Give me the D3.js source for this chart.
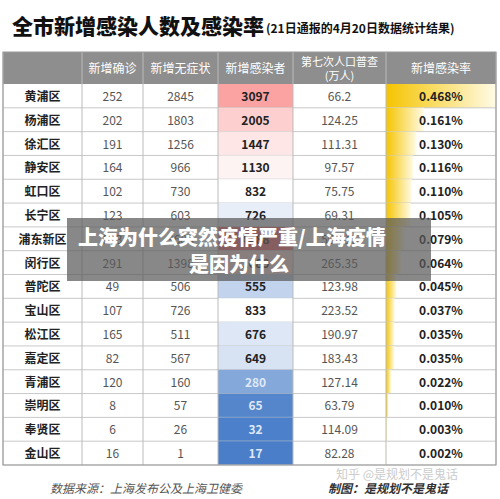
<!DOCTYPE html>
<html><head><meta charset="utf-8">
<script src="https://cdn.jsdelivr.net/npm/d3@7"></script>
<style>body{margin:0;background:#fff}svg{font-family:"Noto Sans CJK SC","Noto Sans",sans-serif}</style>
</head><body><div class="canvas"></div>
<script>
const districts = ["黄浦区","杨浦区","徐汇区","静安区","虹口区","长宁区","浦东新区","闵行区","普陀区","宝山区","松江区","嘉定区","青浦区","崇明区","奉贤区","金山区"];
const confirmed = [252,202,191,164,102,123,803,291,49,107,165,82,120,8,6,16];
const asymptomatic = [2845,1803,1256,966,730,603,3685,1398,506,726,511,567,160,57,26,1];
const infected = [3097,2005,1447,1130,832,726,4488,1689,555,833,676,649,280,65,32,17];
const population = ["66.2","124.25","111.31","97.57","75.75","69.31","568.15","265.35","123.98","223.52","190.97","183.43","127.14","63.79","114.09","82.28"];
const rate = [0.468,0.161,0.130,0.116,0.110,0.105,0.079,0.064,0.045,0.037,0.035,0.035,0.022,0.010,0.003,0.002];

const dims = { w: 500, h: 499 };
const cols = [3, 82, 143, 218, 293, 386, 496];

const svg = d3.select(".canvas").append("svg").attr("width", dims.w).attr("height", dims.h);

svg.append("text").attr("x", 12).attr("y", 34).attr("font-size", 21).attr("font-weight", 900).attr("fill", "#111")
  .text("全市新增感染人数及感染率");
svg.append("text").attr("x", 266).attr("y", 33).attr("font-size", 12).attr("font-weight", 700).attr("fill", "#111")
  .text("(21日通报的4月20日数据统计结果)");

const y = d3.scaleBand().domain(districts).range([84, 465]);
const colour = d3.scaleLinear().domain([17, 830, 4488]).range(["#4a7ec9", "#ffffff", "#f8696b"]).clamp(true);
const bar = d3.scaleLinear().domain([0, d3.max(rate)]).range([0, cols[6] - cols[5]]);

const defs = svg.append("defs");
const grad = defs.append("linearGradient").attr("id", "gold");
grad.append("stop").attr("offset", "0%").attr("stop-color", "#f5c400");
grad.append("stop").attr("offset", "100%").attr("stop-color", "#fffbe6");

// header
svg.append("rect").attr("x", 3).attr("y", 52).attr("width", 493).attr("height", 32).attr("fill", "#8e8e8e");
const heads = ["", "新增确诊", "新增无症状", "新增感染者", "第七次人口普查", "新增感染率"];
heads.forEach((h, i) => {
  const cx = (cols[i] + cols[i + 1]) / 2;
  if (i === 4) {
    svg.append("text").attr("x", cx).attr("y", 66).attr("text-anchor", "middle").attr("font-size", 11).attr("fill", "#fff").text(h);
    svg.append("text").attr("x", cx).attr("y", 80).attr("text-anchor", "middle").attr("font-size", 11).attr("fill", "#fff").text("(万人)");
  } else {
    svg.append("text").attr("x", cx).attr("y", 73).attr("text-anchor", "middle").attr("font-size", 12).attr("fill", "#fff").text(h);
  }
});

const rows = svg.append("g").selectAll("g").data(districts).join("g")
  .attr("transform", d => `translate(0,${y(d)})`);
const bh = y.bandwidth();

rows.append("rect").attr("x", cols[3]).attr("width", cols[4] - cols[3]).attr("height", bh)
  .attr("fill", (d, i) => colour(infected[i]));
rows.append("rect").attr("x", cols[5]).attr("width", (d, i) => bar(rate[i])).attr("height", bh)
  .attr("fill", "url(#gold)");

const cell = (i, fn, opts = {}) => rows.append("text")
  .attr("x", (cols[i] + cols[i + 1]) / 2).attr("y", bh / 2 + 5)
  .attr("text-anchor", "middle").attr("font-size", 12)
  .attr("font-weight", opts.bold ? 700 : 400)
  .attr("fill", opts.fill || "#555").text(fn);

cell(0, d => d, { bold: true, fill: "#222" });
cell(1, (d, i) => confirmed[i]);
cell(2, (d, i) => asymptomatic[i]);
cell(3, (d, i) => infected[i], { bold: true, fill: null })
  .attr("fill", (d, i) => infected[i] < 400 ? "#dfe8f7" : "#222");
cell(4, (d, i) => population[i]);
cell(5, (d, i) => rate[i].toFixed(3) + "%", { bold: true, fill: "#222" });

// grid
rows.append("line").attr("x1", 3).attr("x2", 496).attr("y1", bh).attr("y2", bh).attr("stroke", "#c8c8c8");
cols.forEach(c => svg.append("line").attr("x1", c).attr("x2", c).attr("y1", 52).attr("y2", 465)
  .attr("stroke", "#bbb"));
svg.append("rect").attr("x", 3).attr("y", 52).attr("width", 493).attr("height", 413)
  .attr("fill", "none").attr("stroke", "#999");

// footer
svg.append("text").attr("x", 50).attr("y", 493).attr("font-size", 12).attr("font-style", "italic").attr("fill", "#555")
  .text("数据来源：上海发布公及上海卫健委");
svg.append("text").attr("x", 328).attr("y", 493).attr("font-size", 12).attr("font-weight", 700).attr("font-style", "italic").attr("fill", "#333")
  .text("制图：是规划不是鬼话");
svg.append("text").attr("x", 336).attr("y", 479).attr("font-size", 12).attr("fill", "#ccc").text("知乎 @是规划不是鬼话");

// overlay banner
svg.append("rect").attr("x", 67).attr("y", 218).attr("width", 364).attr("height", 63).attr("fill", "rgba(90,90,90,0.72)");
svg.append("text").attr("x", 78).attr("y", 245).attr("font-size", 20).attr("font-weight", 900).attr("fill", "#fff")
  .text("上海为什么突然疫情严重/上海疫情");
svg.append("text").attr("x", 239).attr("y", 272).attr("text-anchor", "middle").attr("font-size", 20).attr("font-weight", 900).attr("fill", "#fff")
  .text("是因为什么");
</script></body></html>
